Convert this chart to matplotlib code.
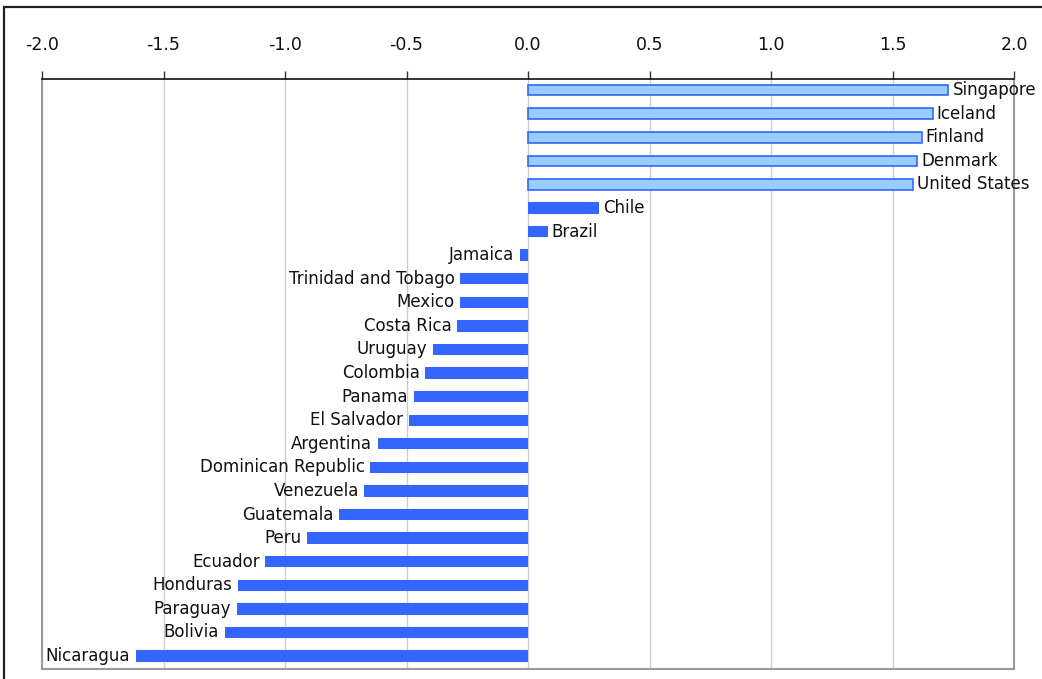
import matplotlib.pyplot as plt
from matplotlib.patches import Rectangle

countries = ["Singapore", "Iceland", "Finland", "Denmark", "United States",
             "Chile", "Brazil", "Jamaica", "Trinidad and Tobago", "Mexico",
             "Costa Rica", "Uruguay", "Colombia", "Panama", "El Salvador",
             "Argentina", "Dominican Republic", "Venezuela", "Guatemala", "Peru",
             "Ecuador", "Honduras", "Paraguay", "Bolivia", "Nicaragua"]
values = [1.73, 1.665, 1.62, 1.60, 1.583,
          0.293, 0.081, -0.033, -0.280, -0.279,
          -0.291, -0.391, -0.422, -0.471, -0.490,
          -0.618, -0.649, -0.673, -0.779, -0.909,
          -1.081, -1.193, -1.199, -1.248, -1.614]
# first five are the benchmark countries (light fill)
benchmark = ["Singapore", "Iceland", "Finland", "Denmark", "United States"]
xticks = [-2.0, -1.5, -1.0, -0.5, 0.0, 0.5, 1.0, 1.5, 2.0]

W, H = 1042, 679
fig = plt.figure(figsize=(W / 100, H / 100), dpi=100)
ax = fig.add_axes([42 / W, 1 - 669 / H, (1014 - 42) / W, (669 - 79) / H])

# outer frame (runs off the right and bottom of the picture)
fig.patches.append(Rectangle((4 / W, -0.1), 1.2, 1 - 7 / H + 0.1,
                             transform=fig.transFigure, fill=False,
                             edgecolor="#222222", linewidth=1.6))

for i, (c, v) in enumerate(zip(countries, values)):
    if c in benchmark:
        ax.barh(i, v, height=0.45, color="#99ccff", edgecolor="#3366ff",
                linewidth=1.2, zorder=3)
    else:
        ax.barh(i, v, height=0.48, color="#3366ff", edgecolor="none", zorder=3)
    if v >= 0:
        ax.annotate(c, (v, i), xytext=(3, 0), textcoords="offset points",
                    ha="left", va="center", fontsize=12, color="#111111", zorder=4)
    else:
        ax.annotate(c, (v, i), xytext=(-4, 0), textcoords="offset points",
                    ha="right", va="center", fontsize=12, color="#111111", zorder=4)

ax.set_xlim(-2.0, 2.0)
ax.set_ylim(24.55, -0.47)
ax.set_xticks(xticks)
ax.set_xticklabels(["%.1f" % t for t in xticks])
ax.xaxis.tick_top()
ax.tick_params(axis="x", direction="out", length=6, width=1, color="#333333",
               labelsize=12.5, pad=12, labelcolor="#111111")
ax.set_yticks([])
ax.grid(axis="x", color="#cccccc", linewidth=1, zorder=0)

ax.spines["top"].set_color("#111111")
ax.spines["top"].set_linewidth(1.2)
for s in ["left", "right", "bottom"]:
    ax.spines[s].set_color("#999999")
    ax.spines[s].set_linewidth(1.5)

fig.savefig("out.png", dpi=100)
